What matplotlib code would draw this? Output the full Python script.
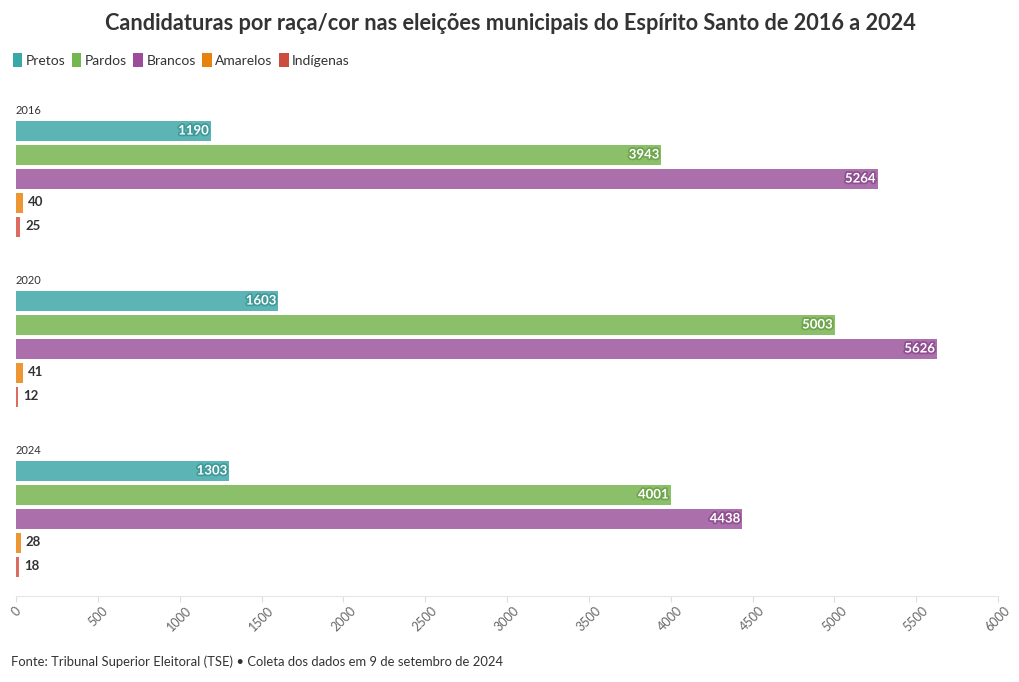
import matplotlib
matplotlib.use("Agg")
import matplotlib.pyplot as plt
from matplotlib.patches import Patch
import matplotlib.patheffects as pe

years = ["2016", "2020", "2024"]
categories = ["Pretos", "Pardos", "Brancos", "Amarelos", "Indígenas"]
pretos = [1190, 1603, 1303]
pardos = [3943, 5003, 4001]
brancos = [5264, 5626, 4438]
amarelos = [40, 41, 28]
indigenas = [25, 12, 18]
xticks = [0, 500, 1000, 1500, 2000, 2500, 3000, 3500, 4000, 4500, 5000, 5500, 6000]

series = [pretos, pardos, brancos, amarelos, indigenas]
bar_colors = ["#5cb5b4", "#8bbf6a", "#ab6fab", "#ec9634", "#dc6c60"]
halo_colors = ["#3f9a99", "#6ea54d", "#8f4f90", "#cf7a1c", "#c0503f"]
legend_colors = ["#3aa8a5", "#72b84d", "#9b4d9c", "#e8820e", "#cc4d3b"]

plt.rcParams['font.family'] = ['Lato', 'DejaVu Sans']

W, H = 1020, 682
fig = plt.figure(figsize=(W / 100, H / 100), dpi=100)
ax_top, ax_bot = 100, 596
ax_left, ax_right = 16, 998
ax = fig.add_axes([ax_left / W, 1 - ax_bot / H, (ax_right - ax_left) / W, (ax_bot - ax_top) / H])

pitch = 24.0
bar_h = 20.0
group_gap = 170.0
first_center = 130.5 - ax_top

for g, year in enumerate(years):
    base = first_center + g * group_gap
    ax.text(0, base - 19.5, year, fontsize=8, color="#333333", va="center", ha="left")
    for i, vals in enumerate(series):
        y = base + i * pitch
        v = vals[g]
        ax.barh(y, v, height=bar_h, color=bar_colors[i], edgecolor="none")
        if v > 500:
            ax.text(v - 12, y, str(v), ha="right", va="center", fontsize=9.5,
                    fontweight="bold", color="white",
                    path_effects=[pe.withStroke(linewidth=2.5, foreground=halo_colors[i])])
        else:
            ax.text(v + 30, y, str(v), ha="left", va="center", fontsize=9.5,
                    fontweight="bold", color="#333333")

ax.set_xlim(0, 6000)
ax.set_ylim(ax_bot - ax_top, 0)
ax.set_xticks(xticks)
ax.set_xticklabels([str(t) for t in xticks], rotation=45, fontsize=9, color="#666666",
                   ha="center", va="top")
ax.tick_params(axis="x", length=4, color="#dddddd", pad=2)
ax.set_yticks([])
for s in ["top", "right", "left"]:
    ax.spines[s].set_visible(False)
ax.spines["bottom"].set_color("#e6e6e6")

fig.text(0.5, 1 - 24 / H, "Candidaturas por raça/cor nas eleições municipais do Espírito Santo de 2016 a 2024",
         ha="center", va="center", fontsize=15.7, fontweight="bold", color="#333333")

handles = [Patch(facecolor=c, edgecolor="none") for c in legend_colors]
fig.legend(handles, categories, loc="center left", bbox_to_anchor=(7 / W, 1 - 60 / H),
           ncol=5, frameon=False, fontsize=10, handlelength=0.7, handleheight=1.1,
           handletextpad=0.25, columnspacing=0.45, labelcolor="#333333", borderaxespad=0)

fig.text(11 / W, 1 - 662 / H, "Fonte: Tribunal Superior Eleitoral (TSE) • Coleta dos dados em 9 de setembro de 2024",
         ha="left", va="center", fontsize=9.4, color="#333333")

fig.savefig("out.png", dpi=100)
